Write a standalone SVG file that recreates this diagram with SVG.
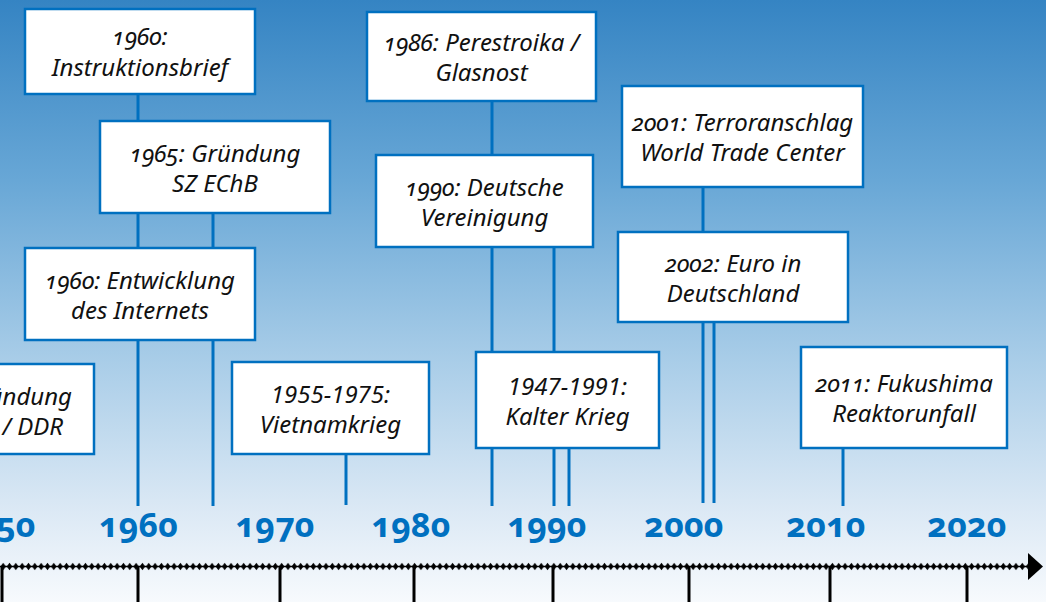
<svg xmlns="http://www.w3.org/2000/svg" width="1046" height="602" viewBox="0 0 1046 602">
<defs>
<linearGradient id="bg" x1="0" y1="0" x2="0" y2="1">
<stop offset="0" stop-color="#3584c3"/>
<stop offset="0.3" stop-color="#68a7d6"/>
<stop offset="0.6" stop-color="#a9cde8"/>
<stop offset="0.85" stop-color="#dce9f5"/>
<stop offset="1" stop-color="#f7fafd"/>
</linearGradient>
<pattern id="chain" patternUnits="userSpaceOnUse" x="0" y="562" width="6.33" height="9">
<line x1="0" y1="4.5" x2="6.33" y2="4.5" stroke="#000" stroke-width="1.5"/>
<polygon points="3.17,0.8 5.9,4.5 3.17,8.2 0.4,4.5" fill="#000"/>
</pattern>
<style>
.box{fill:#fff;stroke:#0070c0;stroke-width:2.5}
.t{font-family:"Noto Sans","Liberation Sans",sans-serif;font-style:italic;font-size:24px;fill:#111;text-anchor:middle}
.on{font-variant-numeric:oldstyle-nums}
.yr{font-family:"Noto Sans","Liberation Sans",sans-serif;font-weight:bold;font-size:34px;fill:#0070c0;text-anchor:middle;font-variant-numeric:oldstyle-nums}
.c{stroke:#0070c0;stroke-width:3;fill:none}
.tick{stroke:#000;stroke-width:3}
</style>
</defs>
<rect width="1046" height="602" fill="url(#bg)"/>
<g id="connectors">
<line class="c" x1="138" y1="94" x2="138" y2="506"/>
<line class="c" x1="213" y1="213" x2="213" y2="506"/>
<line class="c" x1="346" y1="454" x2="346" y2="505"/>
<line class="c" x1="492" y1="101" x2="492" y2="506"/>
<line class="c" x1="554" y1="247" x2="554" y2="506"/>
<line class="c" x1="569" y1="448" x2="569" y2="506"/>
<line class="c" x1="703" y1="187" x2="703" y2="503"/>
<line class="c" x1="714" y1="322" x2="714" y2="503"/>
<line class="c" x1="843" y1="448" x2="843" y2="506"/>
</g>
<g id="n1960instr">
<rect class="box" x="25" y="9" width="230" height="85"/>
<text class="t on" x="140" y="45">1960:</text>
<text class="t" x="140" y="76">Instruktionsbrief</text>
</g>
<g id="n1965">
<rect class="box" x="100" y="121" width="230" height="92"/>
<text class="t on" x="215" y="162">1965: Gründung</text>
<text class="t" x="215" y="192">SZ EChB</text>
</g>
<g id="n1960internet">
<rect class="box" x="25" y="248" width="230" height="92"/>
<text class="t on" x="140" y="289">1960: Entwicklung</text>
<text class="t" x="140" y="319">des Internets</text>
</g>
<g id="n1949">
<rect class="box" x="-140" y="364" width="234" height="90"/>
<text class="t on" x="72" y="405" style="text-anchor:end">1949: Gründung</text>
<text class="t" x="63" y="435" style="text-anchor:end">BRD / DDR</text>
</g>
<g id="n1955">
<rect class="box" x="232" y="362" width="197" height="92"/>
<text class="t" x="330.5" y="403">1955-1975:</text>
<text class="t" x="330.5" y="433">Vietnamkrieg</text>
</g>
<g id="n1986">
<rect class="box" x="367" y="12" width="229" height="89"/>
<text class="t on" x="481.5" y="51">1986: Perestroika /</text>
<text class="t" x="481.5" y="81">Glasnost</text>
</g>
<g id="n1990">
<rect class="box" x="376" y="155" width="217" height="92"/>
<text class="t on" x="484.5" y="196">1990: Deutsche</text>
<text class="t" x="484.5" y="226">Vereinigung</text>
</g>
<g id="n1947">
<rect class="box" x="476" y="352" width="183" height="96"/>
<text class="t" x="567.5" y="395">1947-1991:</text>
<text class="t" x="567.5" y="425">Kalter Krieg</text>
</g>
<g id="n2001">
<rect class="box" x="622" y="86" width="241" height="101"/>
<text class="t on" x="742.5" y="131">2001: Terroranschlag</text>
<text class="t" x="742.5" y="161">World Trade Center</text>
</g>
<g id="n2002">
<rect class="box" x="618" y="232" width="230" height="90"/>
<text class="t on" x="733" y="272">2002: Euro in</text>
<text class="t" x="733" y="302">Deutschland</text>
</g>
<g id="n2011">
<rect class="box" x="801" y="347" width="206" height="101"/>
<text class="t on" x="904" y="392">2011: Fukushima</text>
<text class="t" x="904" y="422">Reaktorunfall</text>
</g>
<g id="years">
<text class="yr" x="-4" y="537">1950</text>
<text class="yr" x="138.5" y="537">1960</text>
<text class="yr" x="275" y="537">1970</text>
<text class="yr" x="411" y="537">1980</text>
<text class="yr" x="547" y="537">1990</text>
<text class="yr" x="684" y="537">2000</text>
<text class="yr" x="826" y="537">2010</text>
<text class="yr" x="967" y="537">2020</text>
</g>
<g id="axis">
<rect x="0" y="562" width="1029" height="9" fill="url(#chain)"/>
<polygon points="1028,553 1043,566.5 1028,580" fill="#000"/>
<line class="tick" x1="2" y1="566" x2="2" y2="602"/>
<line class="tick" x1="138" y1="566" x2="138" y2="602"/>
<line class="tick" x1="280" y1="566" x2="280" y2="602"/>
<line class="tick" x1="414" y1="566" x2="414" y2="602"/>
<line class="tick" x1="553" y1="566" x2="553" y2="602"/>
<line class="tick" x1="689" y1="566" x2="689" y2="602"/>
<line class="tick" x1="830" y1="566" x2="830" y2="602"/>
<line class="tick" x1="967" y1="566" x2="967" y2="602"/>
</g>
</svg>
